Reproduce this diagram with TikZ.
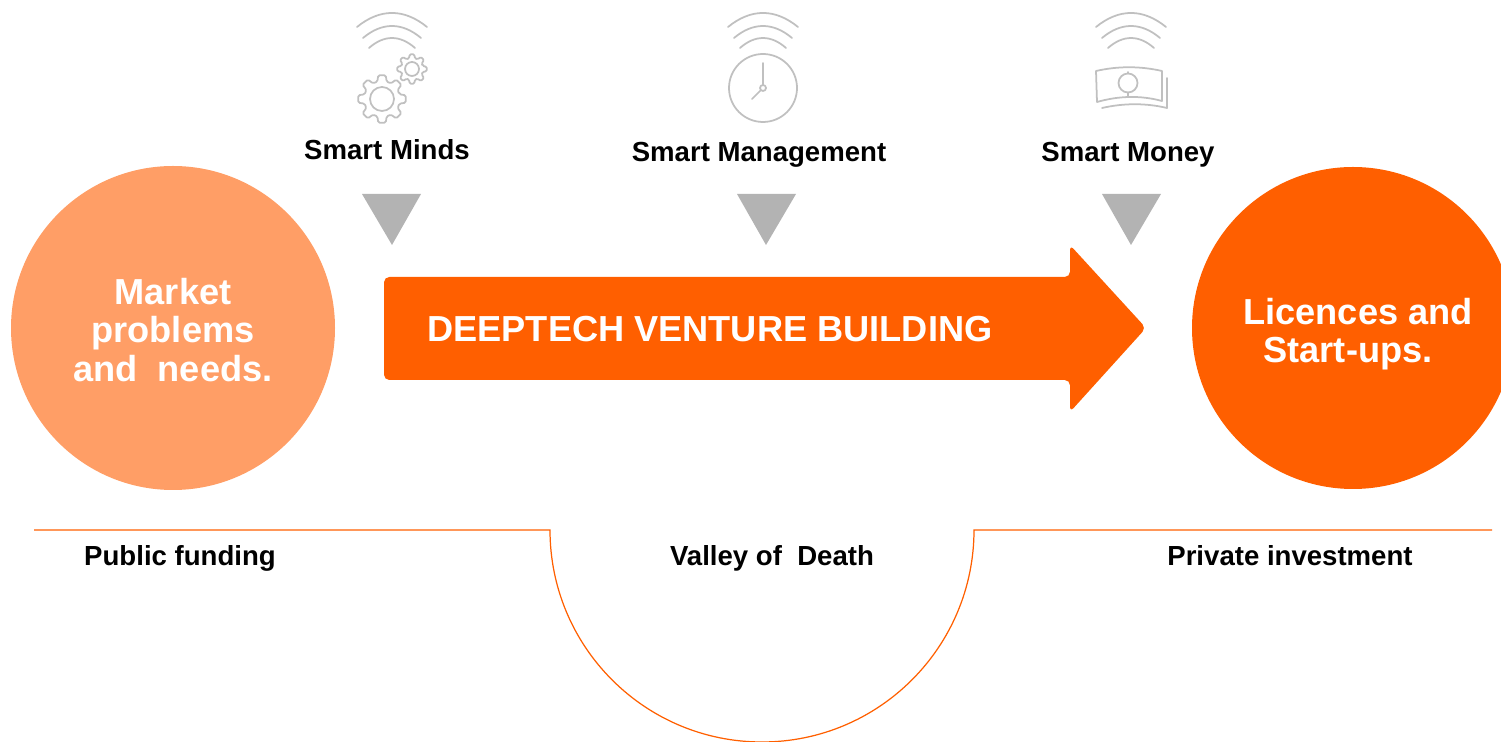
\documentclass[tikz,border=0pt]{standalone}
\usepackage{fontspec}
\setmainfont{Liberation Sans}
\definecolor{lightorange}{HTML}{FF9E66}
\definecolor{darkorange}{HTML}{FF5F00}
\definecolor{wedgegray}{HTML}{B3B3B3}
\definecolor{icongray}{HTML}{C0C0C0}
\tikzset{
	icon/.style={icongray, line width=1pt, line cap=round, line join=round},
	wedge/.style={fill=wedgegray, draw=none},
	smalllabel/.style={font=\fontsize{15.7}{17}\selectfont\bfseries, black, inner sep=0pt, anchor=base},
	biglabel/.style={font=\fontsize{20.6}{21.8}\selectfont\bfseries, white, align=center, inner sep=0pt},
	pics/signal/.style={code={
		\draw[icon] (-35,27) .. controls (-12,8.3) and (12,8.3) .. (35,27);
		\draw[icon] (-29,38) .. controls (-10,22) and (10,22) .. (29,38);
		\draw[icon] (-23,48) .. controls (-8,34.7) and (8,34.7) .. (23,48);
	}},
	pics/gear/.style n args={3}{code={
		\draw[icon, rounded corners=0.8pt] (-15:#2) \foreach \a in {0,45,...,315} {
			-- ({\a-15}:#2) -- ({\a-9}:#1) -- ({\a+9}:#1) -- ({\a+15}:#2)
		} -- cycle;
		\draw[icon] (0,0) circle [radius=#3];
	}},
}
\begin{document}
\begin{tikzpicture}[x=0.02cm, y=-0.02cm]
	\useasboundingbox (0,0) rectangle (1501,742);
	\begin{scope}
	\clip (0,0) rectangle (1501,742);
	\fill[lightorange] (173,328) circle [radius=162];
	\fill[darkorange] (1353,328) circle [radius=161];
	% valley line
	\draw[darkorange, line width=0.7pt] (34,530) -- (550,530) arc [start angle=180, end angle=360, radius=212, y radius=-212] -- (1492,530);
	\end{scope}
	% big arrow
	\fill[darkorange, rounded corners=3pt] (384,277) -- (1070,277) -- (1070,245) -- (1146,328) -- (1070,412) -- (1070,380) -- (384,380) -- cycle;
	% wedges
	\fill[wedge] (362,194) -- (421,194) -- (392,245) -- cycle;
	\fill[wedge] (737,194) -- (796,194) -- (766,245) -- cycle;
	\fill[wedge] (1102,194) -- (1161,194) -- (1131,245) -- cycle;
	% icons
	\pic at (392,0) {signal};
	\pic at (763,0) {signal};
	\pic at (1131,0) {signal};
	\pic at (412,69) {gear={15}{11}{7}};
	\pic at (382,99) {gear={24}{18}{12}};
	\draw[icon] (763,88) circle [radius=34];
	\draw[icon] (763,88) circle [radius=3];
	\draw[icon] (763,85) -- (763,63);
	\draw[icon] (761,90) -- (752,99);
	\draw[icon] (1096,71) .. controls (1118,66) and (1140,66) .. (1162,71) -- (1162,101) .. controls (1140,95) and (1118,96) .. (1097,102) -- cycle;
	\draw[icon] (1102,108) .. controls (1124,103) and (1146,103) .. (1167,108) -- (1167,78);
	\draw[icon] (1128,83) circle [radius=9.5];
	\draw[icon] (1128,72) -- (1128,73.5);
	\draw[icon] (1128,92.5) -- (1128,96);
	% labels
	\node[smalllabel] (minds) at (387,160) {Smart Minds};
	\node[smalllabel] (management) at (759,162) {Smart Management};
	\node[smalllabel] (money) at (1128,162) {Smart Money};
	\node[biglabel] (needs) at (173,330) {Market\\problems\\and\ \ needs.};
	\node[biglabel] (startups) at (1358,334) {Licences and\\Start-ups.\hspace*{0.4cm}};
	\node[biglabel, anchor=west] (venture) at (427,329) {DEEPTECH VENTURE BUILDING};
	\node[smalllabel] (public) at (180,566) {Public funding};
	\node[smalllabel] (valley) at (772,566) {Valley of\ \ Death};
	\node[smalllabel] (private) at (1290,566) {Private investment};
\end{tikzpicture}
\end{document}
